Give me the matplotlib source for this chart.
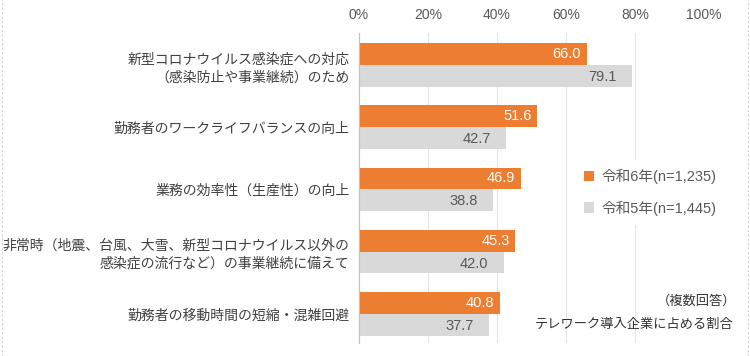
import numpy as np
import matplotlib
matplotlib.use("Agg")
import matplotlib.pyplot as plt
from matplotlib.lines import Line2D

plt.rcParams['font.family'] = ['Noto Sans CJK JP', 'DejaVu Sans']

categories = [
    "新型コロナウイルス感染症への対応\n（感染防止や事業継続）のため",
    "勤務者のワークライフバランスの向上",
    "業務の効率性（生産性）の向上",
    "非常時（地震、台風、大雪、新型コロナウイルス以外の\n感染症の流行など）の事業継続に備えて",
    "勤務者の移動時間の短縮・混雑回避",
]
r6 = [66.0, 51.6, 46.9, 45.3, 40.8]
r5 = [79.1, 42.7, 38.8, 42.0, 37.7]
series_names = ["令和6年(n=1,235)", "令和5年(n=1,445)"]
xticks = [0, 20, 40, 60, 80, 100]

ORANGE = "#ED7D31"
GRAY = "#D9D9D9"
TXT = "#595959"
NUM = ['Liberation Sans', 'Noto Sans CJK JP']

fig = plt.figure(figsize=(7.5, 3.56), dpi=100)
ax = fig.add_axes([0.4787, 0.0365, 0.46, 0.8705])

y = np.arange(len(categories))
h = 0.35
b6 = ax.barh(y - h / 2, r6, height=h, color=ORANGE, zorder=3)
b5 = ax.barh(y + h / 2, r5, height=h, color=GRAY, zorder=3)

for yy, v in zip(y, r6):
    ax.text(v - 1.6, yy - h / 2, f"{v:.1f}", ha="right", va="center",
            color="white", fontsize=10.5, family=NUM, zorder=4)
for yy, v in zip(y, r5):
    ax.text(v - 4.5, yy + h / 2 + 0.02, f"{v:.1f}", ha="right", va="center",
            color=TXT, fontsize=10.5, family=NUM, zorder=4)

ax.set_xlim(0, 100)
ax.set_ylim(4.47, -0.51)
ax.set_xticks(xticks)
ax.set_xticklabels([f"{t}%" for t in xticks], family=NUM, fontsize=10, color=TXT)
ax.xaxis.tick_top()
ax.tick_params(axis="x", length=0, pad=8)
ax.set_yticks(y)
ax.set_yticklabels(categories, fontsize=10, color="#404040", linespacing=1.35)
ax.tick_params(axis="y", length=0, pad=7)
ax.grid(axis="x", color="#E3E3E3", linewidth=0.8, zorder=0)
for s in ["top", "right", "bottom"]:
    ax.spines[s].set_visible(False)
ax.spines["left"].set_color("#BFBFBF")
ax.spines["left"].set_zorder(5)

leg = fig.legend([b6, b5], series_names, loc="upper left",
                 bbox_to_anchor=(0.757, 0.57), frameon=True, fancybox=False,
                 edgecolor="white", facecolor="white", framealpha=1,
                 handlelength=0.7, handleheight=0.7, handletextpad=0.5,
                 labelspacing=1.1, borderpad=0.6,
                 prop={"family": NUM, "size": 10.5})
for t in leg.get_texts():
    t.set_color(TXT)

fig.text(0.982, 0.155, "（複数回答）", ha="right", va="center",
         fontsize=9.5, color="#333333")
fig.text(0.978, 0.088, "テレワーク導入企業に占める割合", ha="right",
         va="center", fontsize=9.5, color="#333333")

for xf in (0.002, 0.997):
    fig.add_artist(Line2D([xf, xf], [0, 1], transform=fig.transFigure,
                          color="#D0D0D0", linestyle=(0, (2, 2)), linewidth=0.8))

fig.savefig("out.png", dpi=100)
